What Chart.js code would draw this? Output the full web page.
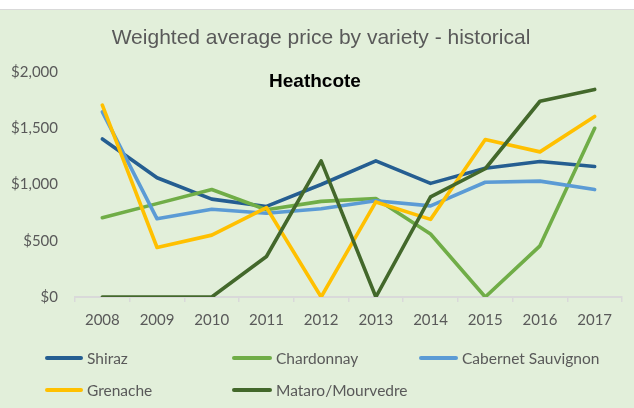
<!DOCTYPE html>
<html>
<head>
<meta charset="utf-8">
<script src="https://cdn.jsdelivr.net/npm/chart.js@4/dist/chart.umd.min.js"></script>
<style>
  html, body { margin: 0; padding: 0; background: #ffffff; }
  #wrap { position: relative; width: 634px; height: 408px; }
  #c { position: absolute; left: 0; top: 0; }
  .leg { position: absolute; display: flex; align-items: center; font-family: Lato, "Open Sans", sans-serif; font-size: 15.5px; color: #595959; white-space: nowrap; }
  .leg .sw { display: inline-block; height: 4px; border-radius: 2px; margin-right: 4px; }
</style>
</head>
<body>
<div id="wrap">
  <canvas id="c" width="634" height="408"></canvas>
</div>
<script>
const titleText = "Weighted average price by variety - historical";
const subtitleText = "Heathcote";
const years = ["2008","2009","2010","2011","2012","2013","2014","2015","2016","2017"];
const seriesNames = ["Shiraz","Chardonnay","Cabernet Sauvignon","Grenache","Mataro/Mourvedre"];
const shiraz     = [1405, 1060, 870, 805, 1000, 1210, 1010, 1145, 1205, 1160];
const chardonnay = [ 705,  830, 955, 775,  850,  875,  560,    0,  455, 1500];
const cabernet   = [1645,  695, 780, 745,  785,  855,  810, 1020, 1030,  955];
const grenache   = [1705,  440, 550, 795,    0,  845,  690, 1400, 1290, 1605];
const mataro     = [   0,    0,   0, 360, 1210,    0,  890, 1140, 1740, 1845];
const seriesColors = ["#255E91","#70AD47","#5B9BD5","#FFC000","#43682B"];
const yTicks = [0, 500, 1000, 1500, 2000];

const allSeries = [shiraz, chardonnay, cabernet, grenache, mataro];

const bgPlugin = {
  id: 'bg',
  beforeDraw(chart) {
    const ctx = chart.ctx;
    ctx.save();
    ctx.fillStyle = '#ffffff';
    ctx.fillRect(0, 0, chart.width, chart.height);
    ctx.fillStyle = '#E2EFDA';
    ctx.fillRect(0, 10, chart.width, chart.height - 10);
    ctx.fillStyle = '#D9D9D9';
    ctx.fillRect(0, 9, chart.width, 1);
    ctx.restore();
  },
  afterDraw(chart) {
    const ctx = chart.ctx;
    ctx.save();
    ctx.textAlign = 'center';
    ctx.textBaseline = 'alphabetic';
    ctx.fillStyle = '#595959';
    ctx.font = '21px "Liberation Sans", Arial, sans-serif';
    ctx.fillText(titleText, 321, 44);
    ctx.fillStyle = '#000000';
    ctx.font = 'bold 19px "Liberation Sans", Arial, sans-serif';
    ctx.fillText(subtitleText, 315, 87);
    ctx.restore();
  }
};

const datasets = seriesNames.map((name, i) => ({
  label: name,
  data: allSeries[i],
  borderColor: seriesColors[i],
  backgroundColor: seriesColors[i],
  borderWidth: 3.6,
  pointRadius: 0,
  pointHoverRadius: 0,
  tension: 0,
  fill: false,
  borderCapStyle: 'round',
  borderJoinStyle: 'round',
  order: seriesNames.length - i
}));

const tickFont = { family: 'Lato, "Open Sans", sans-serif', size: 15 };

new Chart(document.getElementById('c'), {
  type: 'line',
  data: { labels: years, datasets },
  plugins: [bgPlugin],
  options: {
    responsive: false,
    animation: false,
    devicePixelRatio: 1,
    layout: { padding: { top: 72, right: 12, bottom: 0, left: 0 } },
    plugins: {
      legend: { display: false },
      title: { display: false },
      tooltip: { enabled: false }
    },
    scales: {
      x: {
        offset: true,
        grid: { display: true, drawOnChartArea: false, drawTicks: true, tickLength: 5, color: '#D9D9D9', lineWidth: 1.5, offset: true },
        border: { display: true, color: '#D9D9D9', width: 2 },
        ticks: { color: '#595959', font: tickFont, padding: 9, maxRotation: 0, autoSkip: false },
        afterFit(scale) { scale.height = 111; }
      },
      y: {
        min: 0, max: 2000,
        afterBuildTicks(scale) { scale.ticks = yTicks.map(v => ({ value: v })); },
        grid: { display: false, drawTicks: false },
        border: { display: false },
        ticks: {
          color: '#595959', font: tickFont, padding: 17,
          callback: v => '$' + Number(v).toLocaleString('en-US')
        },
        afterFit(scale) { scale.width = 75; }
      }
    }
  }
});

// HTML legend built from the datasets
const legendPos = [
  { x: 45, y: 358, w: 38 },
  { x: 232, y: 358, w: 40 },
  { x: 419, y: 358, w: 39 },
  { x: 45, y: 390, w: 38 },
  { x: 232, y: 390, w: 40 }
];
const wrap = document.getElementById('wrap');
seriesNames.forEach((name, i) => {
  const d = document.createElement('div');
  d.className = 'leg';
  d.style.left = legendPos[i].x + 'px';
  d.style.top = (legendPos[i].y - 10) + 'px';
  d.style.height = '20px';
  const sw = document.createElement('span');
  sw.className = 'sw';
  sw.style.width = legendPos[i].w + 'px';
  sw.style.background = seriesColors[i];
  const t = document.createElement('span');
  t.textContent = name;
  d.appendChild(sw);
  d.appendChild(t);
  wrap.appendChild(d);
});
</script>
</body>
</html>
